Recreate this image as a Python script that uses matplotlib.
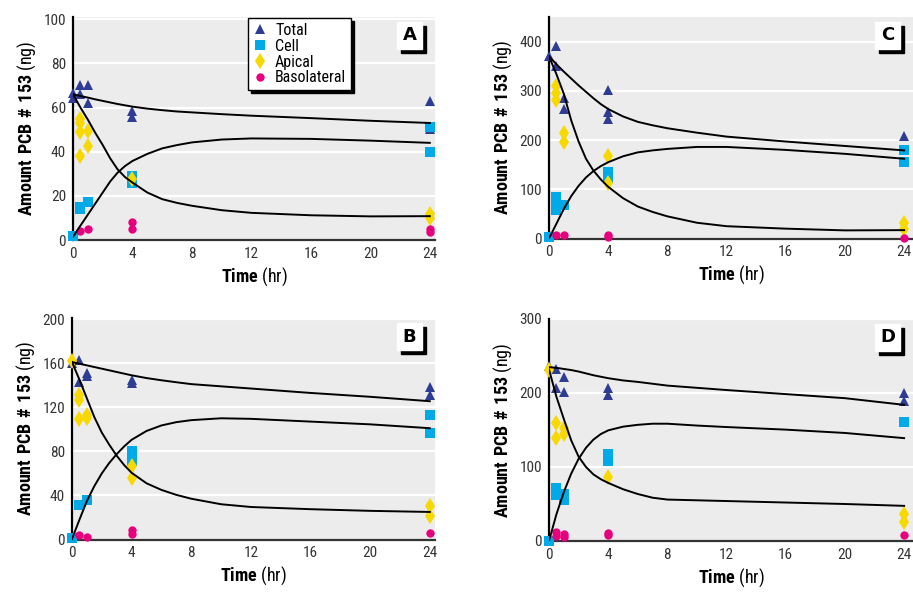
import matplotlib
matplotlib.use("Agg")
import matplotlib.pyplot as plt
from matplotlib import font_manager
from matplotlib.patches import Rectangle

CURVE_T = [0, 0.5, 1, 1.5, 2, 2.5, 3, 3.5, 4, 5, 6, 7, 8, 10, 12, 16, 20, 24]

# ---- panel A ----
A_TOTAL_T = [0, 0, 0.5, 0.5, 1, 1, 4, 4, 24, 24]
A_TOTAL = [66.5, 64.5, 70, 66, 70, 62, 58.5, 55.5, 63, 50.5]
A_CELL_T = [0, 0.5, 0.5, 1, 4, 4, 24, 24]
A_CELL = [2, 15, 14, 17, 29, 26, 51, 40]
A_APICAL_T = [0.5, 0.5, 0.5, 0.5, 1, 1, 4, 24, 24]
A_APICAL = [55, 53, 49, 38, 49.5, 42.5, 27.5, 12, 10]
A_BASO_T = [0.5, 1, 4, 4, 24, 24]
A_BASO = [4, 5, 8, 5, 5, 3.5]
A_FIT_TOTAL = [66, 65.2, 64.5, 63.7, 63, 62.3, 61.6, 61, 60.4, 59.5, 58.8, 58.2, 57.8, 57, 56.3, 55.2, 54, 53]
A_FIT_CELL = [1.5, 6.5, 11.5, 16.5, 21.5, 26.5, 30.5, 33.5, 35.8, 39, 41.5, 43, 44.2, 45.5, 46, 45.8, 45, 44]
A_FIT_APICAL = [66, 60, 54.5, 48.5, 43, 37, 32, 28.5, 26, 21.5, 18.5, 16.8, 15.5, 13.5, 12.3, 11.2, 10.7, 10.8]

# ---- panel B ----
B_TOTAL_T = [0, 0.5, 0.5, 1, 1, 4, 4, 24, 24]
B_TOTAL = [160, 163, 143, 151, 148, 145, 142, 138, 131]
B_CELL_T = [0, 0.5, 1, 4, 4, 4, 24, 24]
B_CELL = [1, 31, 36, 80, 75, 71, 113, 97]
B_APICAL_T = [0, 0.5, 0.5, 0.5, 1, 1, 4, 4, 24, 24]
B_APICAL = [162, 131, 127, 109, 113, 110, 67, 56, 30, 21]
B_BASO_T = [0.5, 1, 4, 4, 24]
B_BASO = [4, 2, 9, 5, 5.5]
B_FIT_TOTAL = [161, 159.5, 158, 156.5, 155, 153.5, 152, 150.5, 149, 146.5, 144.5, 142.7, 141, 139, 137, 133, 129.5, 125.5]
B_FIT_CELL = [0.5, 18, 35, 48.5, 60, 69.5, 77.5, 84.5, 90.5, 98.5, 103.5, 106.5, 108.3, 110, 109.5, 107, 104.5, 101]
B_FIT_APICAL = [161, 145, 128, 111, 97, 86, 76, 67.5, 60.5, 51, 45, 40.5, 37, 32, 29.5, 27.5, 26, 25]

# ---- panel C ----
C_TOTAL_T = [0, 0.5, 0.5, 1, 1, 4, 4, 4, 24, 24]
C_TOTAL = [370, 392, 351, 285, 264, 301, 258, 243, 209, 179]
C_CELL_T = [0, 0.5, 0.5, 0.5, 1, 4, 4, 24, 24]
C_CELL = [3, 84, 72, 57, 68, 136, 123, 179, 155]
C_APICAL_T = [0.5, 0.5, 0.5, 1, 1, 4, 4, 24, 24]
C_APICAL = [309, 295, 281, 214, 197, 167, 112, 32, 20]
C_BASO_T = [0.5, 1, 4, 4, 24]
C_BASO = [8, 8, 8, 4, 2]
C_FIT_TOTAL = [370, 354, 339, 325, 311, 298, 285, 273, 263, 248, 237, 230, 224, 215, 207, 197, 188, 179]
C_FIT_CELL = [0, 30, 60, 86, 107, 124, 137, 147, 155, 167, 175, 179, 182, 186, 186, 180, 172, 162]
C_FIT_APICAL = [370, 334, 294, 240, 197, 162, 138, 120, 105, 82, 65, 54, 45, 32, 25, 20, 16.5, 17]

# ---- panel D ----
D_TOTAL_T = [0, 0.5, 0.5, 1, 1, 4, 4, 24, 24]
D_TOTAL = [236, 233, 207, 221, 201, 207, 197, 200, 189]
D_CELL_T = [0, 0.5, 0.5, 1, 1, 4, 4, 24]
D_CELL = [0.5, 72, 62, 64, 56, 117, 108, 161]
D_APICAL_T = [0, 0.5, 0.5, 1, 1, 4, 24, 24]
D_APICAL = [231, 159, 139, 153, 145, 86, 37, 26]
D_BASO_T = [0.5, 0.5, 1, 1, 4, 4, 24]
D_BASO = [12, 7, 10, 6, 11, 8, 8]
D_FIT_TOTAL = [235, 234, 232.5, 231, 229, 226.5, 224, 222, 220, 217, 215, 212.5, 210, 207, 204, 198.5, 193, 184]
D_FIT_CELL = [0, 36, 66, 91, 111, 126, 137, 144.5, 149.5, 154.5, 157, 158.5, 158.5, 156, 154, 150.5, 146, 139]
D_FIT_APICAL = [232, 195, 165, 136, 114, 100, 90, 83.5, 78.5, 70, 63.5, 58.5, 56, 55, 54, 52, 50, 47.5]

X_TICKS = [0, 4, 8, 12, 16, 20, 24]

COL_TOTAL = "#2e3c94"
COL_CELL = "#00a9e8"
COL_APICAL = "#f7d800"
COL_BASO = "#e6007e"
BG = "#ececec"

W, H = 913, 600


def pick_font(names):
    for n in names:
        try:
            font_manager.findfont(n, fallback_to_default=False)
            return n
        except Exception:
            pass
    return "DejaVu Sans"


NARROW = pick_font(["Liberation Sans Narrow", "Roboto Condensed", "Liberation Sans"])
plt.rcParams["font.family"] = [NARROW, "DejaVu Sans"]
plt.rcParams["mathtext.fontset"] = "custom"
plt.rcParams["mathtext.rm"] = NARROW
plt.rcParams["mathtext.bf"] = NARROW + ":bold"


def plot_panel(fig, rect_px, letter, pts, fits, ymax, yticks, xmax=24.35, legend=False):
    x0, top, x1, bottom = rect_px
    ax = fig.add_axes([x0 / W, (H - bottom) / H, (x1 - x0) / W, (bottom - top) / H])
    ax.set_facecolor(BG)

    (tt, tv), (ct, cv), (at, av), (bt, bv) = pts
    ax.plot(tt, tv, "^", color=COL_TOTAL, ms=6.5, mew=0, clip_on=False, label="Total", zorder=3)
    ax.plot(ct, cv, "s", color=COL_CELL, ms=7, mew=0, clip_on=False, label="Cell", zorder=3)
    ax.plot(at, av, "d", color=COL_APICAL, ms=8.5, mew=0, clip_on=False, label="Apical", zorder=3)
    ax.plot(bt, bv, "o", color=COL_BASO, ms=6, mew=0, clip_on=False, label="Basolateral", zorder=3)
    for f in fits:
        ax.plot(CURVE_T, f, color="black", lw=1.4, zorder=4, solid_joinstyle="round")

    ax.set_xlim(0, xmax)
    ax.set_ylim(0, ymax)
    ax.set_xticks(X_TICKS)
    ax.set_yticks(yticks)
    ax.yaxis.grid(True, color="white", lw=1.6)
    ax.set_axisbelow(True)
    for s in ("top", "right"):
        ax.spines[s].set_visible(False)
    ax.spines["left"].set_color("black")
    ax.spines["left"].set_linewidth(1.6)
    ax.spines["bottom"].set_color("#333333")
    ax.spines["bottom"].set_linewidth(1.6)
    ax.tick_params(length=0, labelsize=11, labelcolor="#333333", pad=5)

    ax.set_xlabel(r"$\mathbf{Time}$ (hr)", fontsize=13, labelpad=3)
    ax.set_ylabel(r"$\mathbf{Amount\ PCB\ \#\ 153}$ (ng)", fontsize=13, labelpad=4)

    # letter box with offset black shadow
    aw, ah = x1 - x0, bottom - top
    bw, bh, gap_r, gap_t, off = 25, 27, 13, 5, 4
    bx = (aw - gap_r - bw) / aw
    by = (ah - gap_t - bh) / ah
    ax.add_patch(Rectangle((bx + off / aw, by - off / ah), bw / aw, bh / ah,
                           transform=ax.transAxes, color="black", zorder=5, clip_on=False))
    ax.add_patch(Rectangle((bx, by), bw / aw, bh / ah,
                           transform=ax.transAxes, color="white", zorder=6, clip_on=False))
    ax.text(bx + bw / aw / 2, by + bh / ah / 2, letter, transform=ax.transAxes,
            ha="center", va="center", fontsize=13, fontweight="bold",
            family="DejaVu Sans", zorder=7)

    if legend:
        leg = ax.legend(loc="upper left", bbox_to_anchor=(0.483, 0.995), borderaxespad=0,
                        fontsize=11.5, frameon=True, fancybox=False, edgecolor="black",
                        framealpha=1, shadow={"color": "black", "alpha": 1},
                        handlelength=0.9, handletextpad=0.5, labelspacing=0.05,
                        borderpad=0.3, numpoints=1)
        leg.get_frame().set_linewidth(1.0)
        leg.set_zorder(8)
    return ax


fig = plt.figure(figsize=(W / 100, H / 100), dpi=100)

plot_panel(fig, (73, 17, 435, 240), "A",
           [(A_TOTAL_T, A_TOTAL), (A_CELL_T, A_CELL), (A_APICAL_T, A_APICAL), (A_BASO_T, A_BASO)],
           [A_FIT_TOTAL, A_FIT_CELL, A_FIT_APICAL], 101, [0, 20, 40, 60, 80, 100], legend=True)
plot_panel(fig, (549, 17, 913, 238.5), "C",
           [(C_TOTAL_T, C_TOTAL), (C_CELL_T, C_CELL), (C_APICAL_T, C_APICAL), (C_BASO_T, C_BASO)],
           [C_FIT_TOTAL, C_FIT_CELL, C_FIT_APICAL], 450, [0, 100, 200, 300, 400], xmax=24.6)
plot_panel(fig, (72, 318, 435, 539.5), "B",
           [(B_TOTAL_T, B_TOTAL), (B_CELL_T, B_CELL), (B_APICAL_T, B_APICAL), (B_BASO_T, B_BASO)],
           [B_FIT_TOTAL, B_FIT_CELL, B_FIT_APICAL], 201, [0, 40, 80, 120, 160, 200])
plot_panel(fig, (549, 319, 913, 541), "D",
           [(D_TOTAL_T, D_TOTAL), (D_CELL_T, D_CELL), (D_APICAL_T, D_APICAL), (D_BASO_T, D_BASO)],
           [D_FIT_TOTAL, D_FIT_CELL, D_FIT_APICAL], 300, [0, 100, 200, 300], xmax=24.6)

fig.savefig("out.png", dpi=100)
